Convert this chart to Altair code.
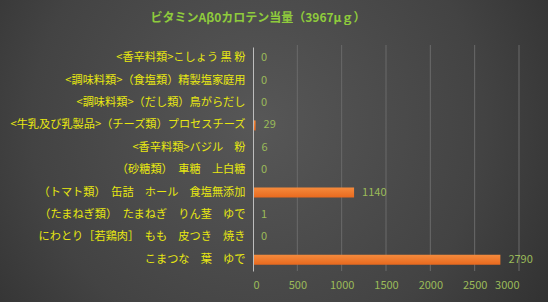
import altair as alt
import pandas as pd

foods = [
    "<香辛料類>こしょう 黒 粉",
    "<調味料類>（食塩類）精製塩家庭用",
    "<調味料類>（だし類）鳥がらだし",
    "<牛乳及び乳製品>（チーズ類）プロセスチーズ",
    "<香辛料類>バジル　粉",
    "（砂糖類）　車糖　上白糖",
    "（トマト類）　缶詰　ホール　食塩無添加",
    "（たまねぎ類）　たまねぎ　りん茎　ゆで",
    "にわとり［若鶏肉］　もも　皮つき　焼き",
    "こまつな　葉　ゆで",
]
values = [0, 0, 0, 29, 6, 0, 1140, 1, 0, 2790]
grid_ticks = [500, 1000, 1500, 2000, 2500, 3000]
title_text = "ビタミンAβ0カロテン当量（3967μｇ）"

df = pd.DataFrame({"food": foods, "value": values})
grid_df = pd.DataFrame({"t": grid_ticks})

W, H = 266, 224
PL, PT, PR, PB = 253, 47, 29, 31
FONT = "Noto Sans CJK JP"

bg = alt.Chart(pd.DataFrame({"a": [0]})).mark_rect(
    fill={
        "gradient": "radial",
        "x1": 0.47, "y1": 0.45, "r1": 0,
        "x2": 0.47, "y2": 0.45, "r2": 0.75,
        "stops": [
            {"offset": 0, "color": "#575757"},
            {"offset": 0.55, "color": "#434343"},
            {"offset": 1, "color": "#272727"},
        ],
    }
).encode(
    x=alt.value(-PL), x2=alt.value(W + PR),
    y=alt.value(-PT), y2=alt.value(H + PB),
)

grid = alt.Chart(grid_df).mark_rule(color="#6a6a6a", strokeWidth=1).encode(
    x=alt.X("t:Q", scale=alt.Scale(domain=[0, 3000])),
    y=alt.value(-2), y2=alt.value(H),
)

xenc = alt.X(
    "value:Q",
    scale=alt.Scale(domain=[0, 3000]),
    axis=alt.Axis(
        values=[0, 500, 1000, 1500, 2000, 2500, 3000], format="d",
        grid=False, domain=False, ticks=False, title=None,
        labelColor="#9BBB59", labelFont=FONT, labelFontSize=11,
        labelPadding=8, zindex=1,
    ),
)
yenc = alt.Y(
    "food:N", sort=foods,
    axis=alt.Axis(
        title=None, ticks=False, domain=True, domainColor="#bdbdbd",
        labelColor="#E8E810", labelFont=FONT, labelFontSize=11.2,
        labelPadding=8, labelLimit=260, zindex=1,
    ),
)

bars = alt.Chart(df).mark_bar(
    size=10,
    fill={
        "gradient": "linear", "x1": 0, "y1": 0, "x2": 0, "y2": 1,
        "stops": [
            {"offset": 0, "color": "#F58A3C"},
            {"offset": 1, "color": "#E8691E"},
        ],
    },
).encode(x=xenc, y=yenc)

labels = alt.Chart(df).mark_text(
    align="left", baseline="middle", dx=8, color="#9BBB59", font=FONT, fontSize=11
).encode(
    x=alt.X("value:Q", scale=alt.Scale(domain=[0, 3000])),
    y=alt.Y("food:N", sort=foods),
    text=alt.Text("value:Q", format="d"),
)

chart = alt.layer(bg, grid, bars, labels).properties(
    width=W, height=H,
    title=alt.Title(
        title_text, color="#8FCB3C", font=FONT, fontSize=12, fontWeight="bold",
        anchor="middle", frame="group", dx=-128, offset=-25,
    ),
    padding={"left": PL, "top": PT, "right": PR, "bottom": PB},
    autosize=alt.AutoSizeParams(type="none"),
    background="#2b2b2b",
).configure_view(stroke=None)

chart.save("out.html", embed_options={"renderer": "svg", "actions": False})
